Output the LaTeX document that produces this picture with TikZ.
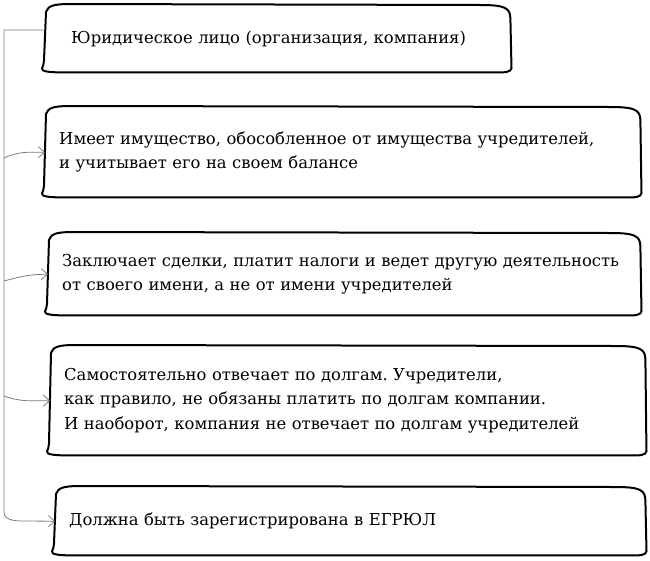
\documentclass[tikz,border=0pt]{standalone}
\usepackage{fontspec}
\setmainfont{DejaVu Serif}
\usepackage{tikz}
\usetikzlibrary{arrows.meta,calc}
\definecolor{linkgray}{RGB}{125,125,125}
\frenchspacing

\tikzset{
  card/.style={anchor=north west, inner xsep=14pt, inner ysep=0pt, align=left,
    font=\fontsize{16.4}{24.5}\selectfont},
  outline/.style={line width=2pt, line join=round, line cap=round},
  link/.style={draw=linkgray, line width=0.8pt},
  linkarrow/.style={link, -{Straight Barb[length=6pt,width=11pt]}}
}

\begin{document}
\begin{tikzpicture}[x=1pt, y=1pt]
  \useasboundingbox (0,0) rectangle (650,-560);
  % the five statements
  \node[card, inner xsep=26pt, text width=413pt, minimum height=67pt] (b1) at (45,-5)
    {Юридическое лицо (организация, компания)};
  \node[card, text width=567pt, minimum height=90pt] (b2) at (45,-107)
    {Имеет имущество, обособленное от имущества учредителей,\\
     и учитывает его на своем балансе};
  \node[card, text width=564pt, minimum height=82pt] (b3) at (48,-233)
    {Заключает сделки, платит налоги и ведет другую деятельность\\
     от своего имени, а не от имени учредителей};
  \node[card, text width=567pt, minimum height=109pt] (b4) at (50,-346)
    {Самостоятельно отвечает по долгам. Учредители,\\
     как правило, не обязаны платить по долгам компании.\\
     И наоборот, компания не отвечает по долгам учредителей};
  \node[card, text width=562pt, minimum height=68pt] (b5) at (55,-487)
    {Должна быть зарегистрирована в ЕГРЮЛ};
  % hand drawn frames
  \foreach \n in {b1,b2,b3,b4,b5}{
    \draw[outline] ([shift={(1,-7)}]\n.north west)
      .. controls ([shift={(3,-1)}]\n.north west) and ([shift={(8,1)}]\n.north west) .. ([shift={(25,1)}]\n.north west)
      -- ([shift={(-30,0)}]\n.north east)
      .. controls ([shift={(-5,0)}]\n.north east) and ([shift={(0,-3)}]\n.north east) .. ([shift={(0,-14)}]\n.north east)
      -- ([shift={(1,8)}]\n.south east)
      .. controls ([shift={(2,2)}]\n.south east) and ([shift={(0,0)}]\n.south east) .. ([shift={(-10,0)}]\n.south east)
      -- ([shift={(18,0)}]\n.south west)
      .. controls ([shift={(4,0)}]\n.south west) and ([shift={(-4,1)}]\n.south west) .. ([shift={(-3,4)}]\n.south west)
      .. controls ([shift={(-2,6)}]\n.south west) and ([shift={(-1,9)}]\n.south west) .. ([shift={(-1,12)}]\n.south west)
      -- cycle;
  }
  % trunk and branches
  \coordinate (t0) at (4,-30);
  \coordinate (t2) at (4,-158);
  \coordinate (t3) at (4,-281);
  \coordinate (t4) at (4,-396);
  \coordinate (t5) at (4,-512);
  \coordinate (k5) at (22,-521);
  \draw[link] (b1.west |- t0) -- (t0) -- (t5) to[out=-90, in=180] (k5);
  \draw[linkarrow] (t2) to[out=25, in=180] (b2.west);
  \draw[linkarrow] (t3) to[out=15, in=180] (b3.west);
  \draw[linkarrow] (t4) to[out=-20, in=180] (b4.west);
  \draw[linkarrow] (k5) -- (b5.west);
\end{tikzpicture}
\end{document}
